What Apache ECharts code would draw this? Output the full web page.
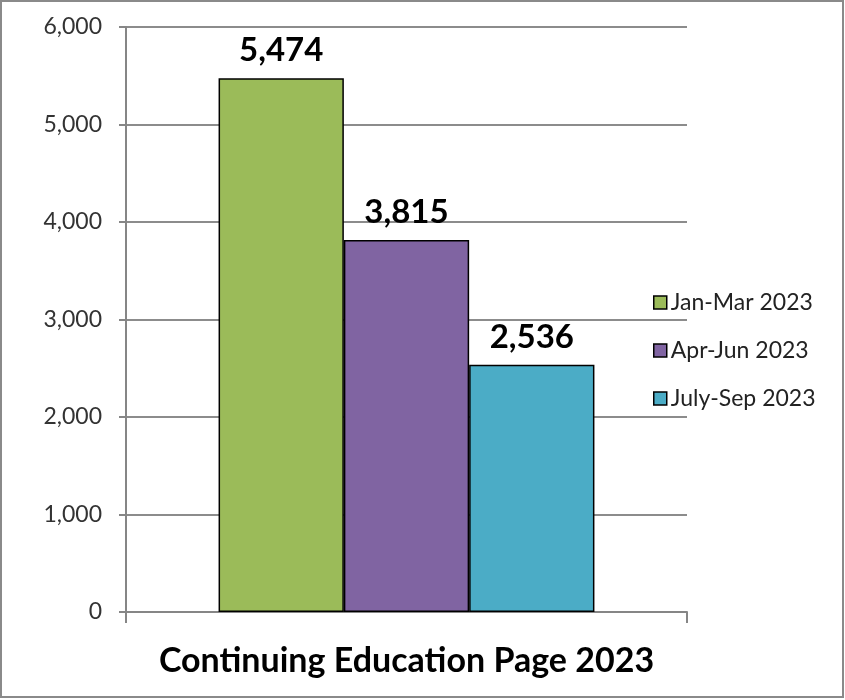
<!DOCTYPE html>
<html>
<head>
<meta charset="utf-8">
<script src="https://cdn.jsdelivr.net/npm/echarts@6/dist/echarts.min.js"></script>
<style>
  html, body { margin: 0; padding: 0; background: #fff; }
  #chart { width: 845px; height: 700px; }
</style>
</head>
<body>
<div id="chart"></div>
<script>
// Quarterly page visits for the Continuing Education page
const categories = ['Continuing Education Page 2023'];
const periods = ['Jan-Mar 2023', 'Apr-Jun 2023', 'July-Sep 2023'];
const values = [5474, 3815, 2536];
const colors = ['#9BBB59', '#8064A2', '#4BACC6'];
const yTicks = [0, 1000, 2000, 3000, 4000, 5000, 6000];

const FONT = 'Lato, "Open Sans", sans-serif';
const fmt = v => v.toLocaleString('en-US');

const chart = echarts.init(document.getElementById('chart'), null, { renderer: 'canvas' });

const series = periods.map((name, i) => ({
  name: name,
  type: 'bar',
  data: [values[i]],
  barGap: '0%',
  barCategoryGap: '33%',
  itemStyle: { color: colors[i], borderColor: '#000', borderWidth: 1.5 },
  label: {
    show: true,
    position: 'top',
    distance: 11,
    formatter: p => fmt(p.value),
    fontFamily: FONT,
    fontWeight: 'bold',
    fontSize: 33,
    color: '#000'
  }
}));

chart.setOption({
  animation: false,
  backgroundColor: '#fff',
  grid: { left: 126, right: 158, top: 27, bottom: 88, containLabel: false },
  graphic: [{
    type: 'rect',
    shape: { x: 1, y: 1, width: 842, height: 696 },
    style: { fill: 'none', stroke: '#8a8a8a', lineWidth: 2 },
    silent: true
  }],
  legend: {
    orient: 'vertical',
    left: 648,
    top: 286,
    itemGap: 25,
    itemWidth: 13,
    itemHeight: 13,
    icon: 'rect',
    data: periods,
    textStyle: { fontFamily: FONT, fontSize: 23, color: '#222', padding: [0, 0, 0, -1] },
    itemStyle: { borderColor: '#000', borderWidth: 1.5 }
  },
  xAxis: {
    type: 'category',
    data: categories,
    axisLine: { show: true, lineStyle: { color: '#868686', width: 2 } },
    axisTick: { show: true, length: 11, alignWithLabel: false, lineStyle: { color: '#868686', width: 2 } },
    axisLabel: {
      show: true,
      margin: 32,
      fontFamily: FONT,
      fontWeight: 'bold',
      fontSize: 34,
      color: '#000'
    },
    splitLine: { show: false }
  },
  yAxis: {
    type: 'value',
    min: yTicks[0],
    max: yTicks[yTicks.length - 1],
    interval: 1000,
    axisLine: { show: true, lineStyle: { color: '#868686', width: 2 } },
    axisTick: { show: true, length: 7, inside: false, lineStyle: { color: '#868686', width: 2 } },
    axisLabel: {
      margin: 24,
      formatter: v => fmt(v),
      fontFamily: FONT,
      fontSize: 23,
      color: '#333'
    },
    splitLine: { show: true, lineStyle: { color: '#8c8c8c', width: 2 } }
  },
  series: series
});
</script>
</body>
</html>
